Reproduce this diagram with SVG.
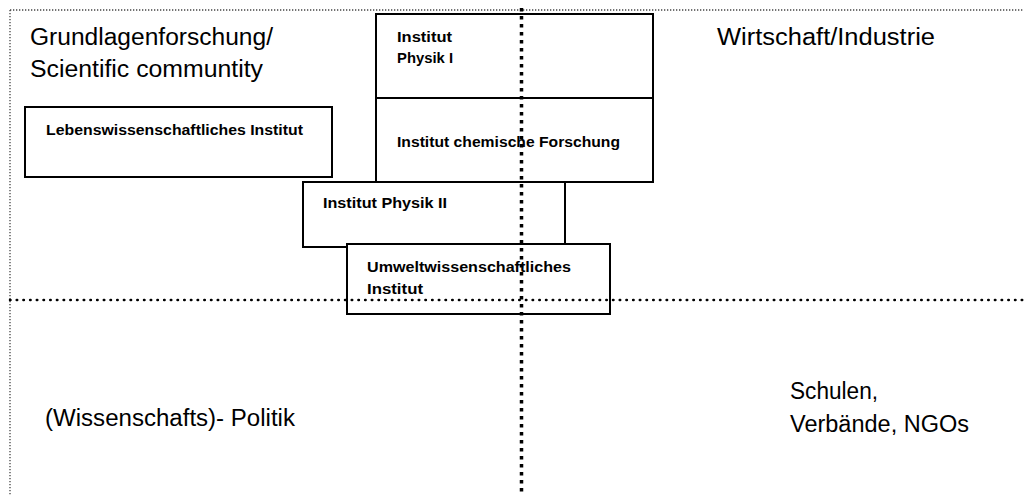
<svg xmlns="http://www.w3.org/2000/svg" width="1024" height="495" viewBox="0 0 1024 495">
<style>
.big{font-family:"Liberation Sans",Arial,sans-serif;font-size:23px;fill:#000}
.lbl{font-family:"Liberation Sans",Arial,sans-serif;font-size:14.5px;font-weight:bold;fill:#000}
.box{fill:#fff;stroke:#000;stroke-width:2}
</style>
<rect width="1024" height="495" fill="#fff"/>
<g id="frame">
<line x1="10" y1="10" x2="1024" y2="10" stroke="#444" stroke-width="1.3" stroke-dasharray="1.3 1.7"/>
<line x1="10" y1="10" x2="10" y2="495" stroke="#444" stroke-width="1.3" stroke-dasharray="1.3 1.7"/>
</g>
<g id="quadrant-labels">
<text class="big" x="30" y="45" textLength="243" lengthAdjust="spacingAndGlyphs">Grundlagenforschung/</text>
<text class="big" x="30" y="77" textLength="233" lengthAdjust="spacingAndGlyphs">Scientific communtity</text>
<text class="big" x="717" y="45" textLength="218" lengthAdjust="spacingAndGlyphs">Wirtschaft/Industrie</text>
<text class="big" x="45" y="426" textLength="250" lengthAdjust="spacingAndGlyphs">(Wissenschafts)- Politik</text>
<text class="big" x="790" y="399" textLength="88" lengthAdjust="spacingAndGlyphs">Schulen,</text>
<text class="big" x="790" y="432" textLength="179" lengthAdjust="spacingAndGlyphs">Verbände, NGOs</text>
</g>
<g id="node-lebens">
<rect class="box" x="25" y="107" width="307" height="70"/>
<text class="lbl" x="46" y="135" textLength="257" lengthAdjust="spacingAndGlyphs">Lebenswissenschaftliches Institut</text>
</g>
<g id="node-physik1">
<rect class="box" x="376" y="14" width="277" height="84"/>
<text class="lbl" x="397" y="42" textLength="55" lengthAdjust="spacingAndGlyphs">Institut</text>
<text class="lbl" x="397" y="63" textLength="56" lengthAdjust="spacingAndGlyphs">Physik I</text>
</g>
<g id="node-chemie">
<rect class="box" x="376" y="98" width="277" height="84"/>
<text class="lbl" x="397" y="147" textLength="223" lengthAdjust="spacingAndGlyphs">Institut chemische Forschung</text>
</g>
<g id="node-physik2">
<rect class="box" x="303" y="182" width="262" height="65"/>
<text class="lbl" x="323" y="208" textLength="124" lengthAdjust="spacingAndGlyphs">Institut Physik II</text>
</g>
<g id="node-umwelt">
<rect class="box" x="347" y="244" width="263" height="70"/>
<text class="lbl" x="367" y="272" textLength="204" lengthAdjust="spacingAndGlyphs">Umweltwissenschaftliches</text>
<text class="lbl" x="367" y="294" textLength="56" lengthAdjust="spacingAndGlyphs">Institut</text>
</g>
<g id="connectors">
<line x1="10" y1="300" x2="1024" y2="300" stroke="#000" stroke-width="2.5" stroke-linecap="round" stroke-dasharray="0.5 6.2"/>
<line x1="521.5" y1="8" x2="521.5" y2="495" stroke="#000" stroke-width="3.5" stroke-dasharray="3.5 4.5"/>
</g>
</svg>
